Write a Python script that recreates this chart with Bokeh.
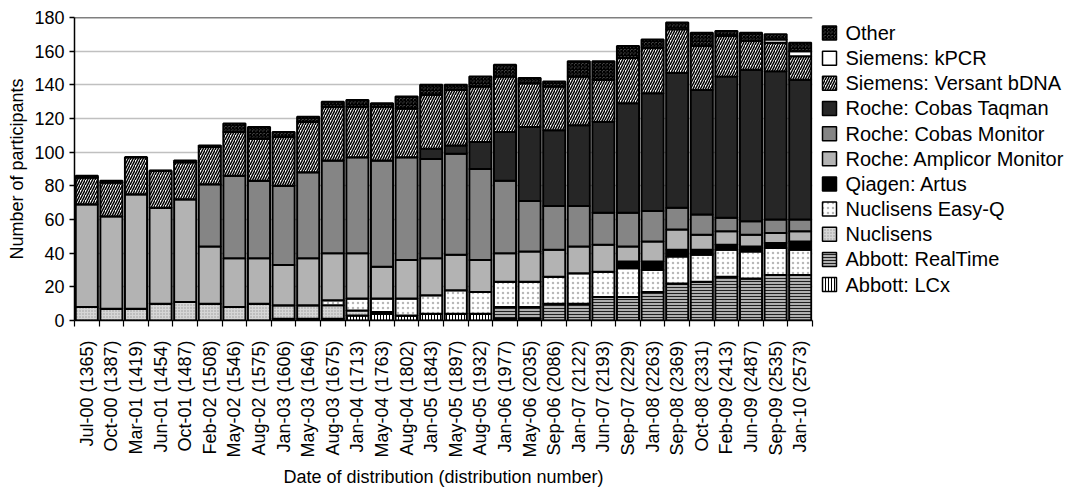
import math
from bokeh.plotting import figure
from bokeh.layouts import row
from bokeh.core.properties import value
from bokeh.models import ColumnDataSource, Range1d, LinearAxis, FixedTicker, Span
from bokeh.embed import file_html
from bokeh.resources import INLINE

categories = ["Jul-00 (1365)", "Oct-00 (1387)", "Mar-01 (1419)", "Jun-01 (1454)", "Oct-01 (1487)",
              "Feb-02 (1508)", "May-02 (1546)", "Aug-02 (1575)", "Jan-03 (1606)", "May-03 (1646)",
              "Aug-03 (1675)", "Jan-04 (1713)", "May-04 (1763)", "Aug-04 (1802)", "Jan-05 (1843)",
              "May-05 (1897)", "Aug-05 (1932)", "Jan-06 (1977)", "May-06 (2035)", "Sep-06 (2086)",
              "Jan-07 (2122)", "Jun-07 (2193)", "Sep-07 (2229)", "Jan-08 (2263)", "Sep-08 (2369)",
              "Oct-08 (2331)", "Feb-09 (2413)", "Jun-09 (2487)", "Sep-09 (2535)", "Jan-10 (2573)"]

abbott_lcx      = [0, 0, 0, 0, 0, 0, 0, 0, 1, 1, 1, 3, 4, 3, 4, 4, 4, 1, 1, 0, 0, 0, 0, 0, 0, 0, 0, 0, 0, 0]
abbott_realtime = [0, 0, 0, 0, 0, 0, 0, 0, 0, 0, 0, 0, 0, 0, 0, 0, 0, 7, 7, 10, 10, 14, 14, 17, 22, 23, 26, 25, 27, 27]
nuclisens       = [8, 7, 7, 10, 11, 10, 8, 10, 8, 8, 8, 3, 1, 0, 0, 0, 0, 0, 0, 0, 0, 0, 0, 0, 0, 0, 0, 0, 0, 0]
nuclisens_easyq = [0, 0, 0, 0, 0, 0, 0, 0, 0, 0, 3, 7, 8, 10, 11, 14, 13, 15, 15, 16, 18, 15, 17, 13, 16, 16, 16, 16, 16, 15]
qiagen_artus    = [0, 0, 0, 0, 0, 0, 0, 0, 0, 0, 0, 0, 0, 0, 0, 0, 0, 0, 0, 0, 0, 0, 4, 5, 4, 3, 3, 3, 3, 5]
roche_amplicor  = [61, 55, 68, 57, 61, 34, 29, 27, 24, 28, 28, 27, 19, 23, 22, 21, 19, 17, 18, 16, 16, 16, 9, 12, 12, 9, 8, 7, 6, 6]
roche_cobas_mon = [0, 0, 0, 0, 0, 37, 49, 46, 47, 51, 55, 57, 63, 61, 59, 60, 54, 43, 30, 26, 24, 19, 20, 18, 13, 12, 8, 8, 8, 7]
roche_taqman    = [0, 0, 0, 0, 0, 0, 0, 0, 0, 0, 0, 0, 0, 0, 6, 5, 16, 29, 44, 45, 48, 54, 65, 70, 80, 74, 84, 90, 88, 83]
siemens_versant = [16, 20, 22, 22, 22, 22, 26, 25, 29, 30, 32, 30, 32, 29, 32, 33, 33, 33, 26, 26, 29, 25, 27, 27, 26, 26, 24, 17, 17, 14]
siemens_kpcr    = [0, 0, 0, 0, 0, 0, 0, 0, 0, 0, 0, 0, 0, 0, 0, 0, 0, 0, 0, 0, 0, 0, 0, 0, 0, 0, 0, 0, 2, 3]
other           = [1, 1, 0, 0, 1, 1, 5, 7, 3, 3, 3, 4, 2, 7, 6, 3, 6, 7, 3, 3, 9, 11, 7, 5, 4, 8, 3, 5, 3, 5]

series_names = ["Abbott: LCx", "Abbott: RealTime", "Nuclisens", "Nuclisens Easy-Q", "Qiagen: Artus",
                "Roche: Amplicor Monitor", "Roche: Cobas Monitor", "Roche: Cobas Taqman",
                "Siemens: Versant bDNA", "Siemens: kPCR", "Other"]
series_values = [abbott_lcx, abbott_realtime, nuclisens, nuclisens_easyq, qiagen_artus, roche_amplicor,
                 roche_cobas_mon, roche_taqman, siemens_versant, siemens_kpcr, other]

y_ticks = [0, 20, 40, 60, 80, 100, 120, 140, 160, 180]

styles = [
    dict(fill_color="#ffffff", hatch_pattern="vertical_line", hatch_color="#000000", hatch_scale=3, hatch_weight=1),
    dict(fill_color="#b0b0b0", hatch_pattern="horizontal_line", hatch_color="#202020", hatch_scale=3, hatch_weight=1),
    dict(fill_color="#d6d6d6", hatch_pattern="dot", hatch_color="#9a9a9a", hatch_scale=3, hatch_weight=1),
    dict(fill_color="#ffffff", hatch_pattern="dot", hatch_color="#b8b8b8", hatch_scale=5, hatch_weight=1),
    dict(fill_color="#000000"),
    dict(fill_color="#b3b3b3"),
    dict(fill_color="#858585"),
    dict(fill_color="#262626"),
    dict(fill_color="#ffffff", hatch_pattern="right_diagonal_line", hatch_color="#000000", hatch_scale=5, hatch_weight=1.5),
    dict(fill_color="#ffffff"),
    dict(fill_color="#ffffff", hatch_pattern="criss_cross", hatch_color="#000000", hatch_scale=3.5, hatch_weight=1.5),
]

n = len(categories)
positions = list(range(n))
data = {"x": positions}
bottom = [0] * n
for name, vals in zip(series_names, series_values):
    data[name + "_b"] = list(bottom)
    bottom = [b + v for b, v in zip(bottom, vals)]
    data[name + "_t"] = list(bottom)
source = ColumnDataSource(data)

FONT = "Liberation Sans"

p = figure(width=820, height=489, x_range=Range1d(-0.5, n - 0.5),
           y_range=Range1d(y_ticks[0], y_ticks[-1]), output_backend="svg", toolbar_location=None,
           x_axis_location=None, min_border_left=74, min_border_top=17, min_border_bottom=166,
           min_border_right=8)
p.outline_line_color = None
p.xgrid.grid_line_color = None
p.ygrid.grid_line_color = "#c0c0c0"
p.ygrid.grid_line_width = 1.5
p.ygrid.ticker = FixedTicker(ticks=y_ticks)

for name, st in zip(series_names, styles):
    p.vbar(x="x", bottom=name + "_b", top=name + "_t", width=0.9, source=source,
           line_color="#000000", line_width=2, **st)

p.add_layout(Span(location=y_ticks[-1], dimension="width", line_color="#000000", line_width=1.5))

# y axis
yax = p.yaxis[0]
yax.ticker = FixedTicker(ticks=y_ticks)
yax.axis_label = "Number of participants"
yax.axis_label_text_font = FONT
yax.axis_label_text_font_size = "18px"
yax.axis_label_text_font_style = "normal"
yax.axis_label_text_color = "#000000"
yax.axis_label_standoff = 4
yax.major_label_text_font = FONT
yax.major_label_text_font_size = "18px"
yax.major_label_text_color = "#000000"
yax.major_tick_out = 5
yax.major_tick_in = 0
yax.minor_tick_out = 0
yax.minor_tick_in = 0
yax.axis_line_color = "#000000"
yax.axis_line_width = 1.5
yax.major_tick_line_width = 1.5

# x axis: labels at category centres, ticks at category boundaries
label_axis = LinearAxis(ticker=FixedTicker(ticks=positions, minor_ticks=[i - 0.5 for i in range(n + 1)]),
                        major_label_overrides={i: c for i, c in zip(positions, categories)},
                        axis_line_color="#000000", axis_line_width=1.5,
                        major_tick_line_color=None, major_tick_out=0, major_tick_in=0,
                        minor_tick_line_color="#000000", minor_tick_line_width=1.2,
                        minor_tick_out=6, minor_tick_in=0,
                        major_label_orientation=math.pi / 2, major_label_standoff=14,
                        major_label_text_font=FONT, major_label_text_font_size="18px",
                        major_label_text_color="#000000",
                        axis_label="Date of distribution (distribution number)",
                        axis_label_text_font=FONT, axis_label_text_font_size="18px",
                        axis_label_text_font_style="normal", axis_label_text_color="#000000",
                        axis_label_standoff=6)
p.add_layout(label_axis, "below")

# legend panel (separate figure, same styles as the bars)
row_index = list(range(len(series_names)))
lf = figure(width=252, height=489, x_range=Range1d(0, 252), y_range=Range1d(-1.428, 10.616),
            output_backend="svg", toolbar_location=None, x_axis_location=None, y_axis_location=None,
            min_border=0)
lf.outline_line_color = None
lf.xgrid.grid_line_color = None
lf.ygrid.grid_line_color = None
for k, st in zip(row_index, styles):
    lf.rect(x=[9], y=[k], width=14, height=14, width_units="screen", height_units="screen",
            line_color="#000000", line_width=1.5, **st)
lf.text(x=[25] * len(series_names), y=row_index, text=series_names, text_font=value(FONT),
        text_font_size="20px", text_color="#000000", text_baseline="middle", text_align="left")

layout = row(p, lf)
open("out.html", "w").write(file_html(layout, INLINE))
